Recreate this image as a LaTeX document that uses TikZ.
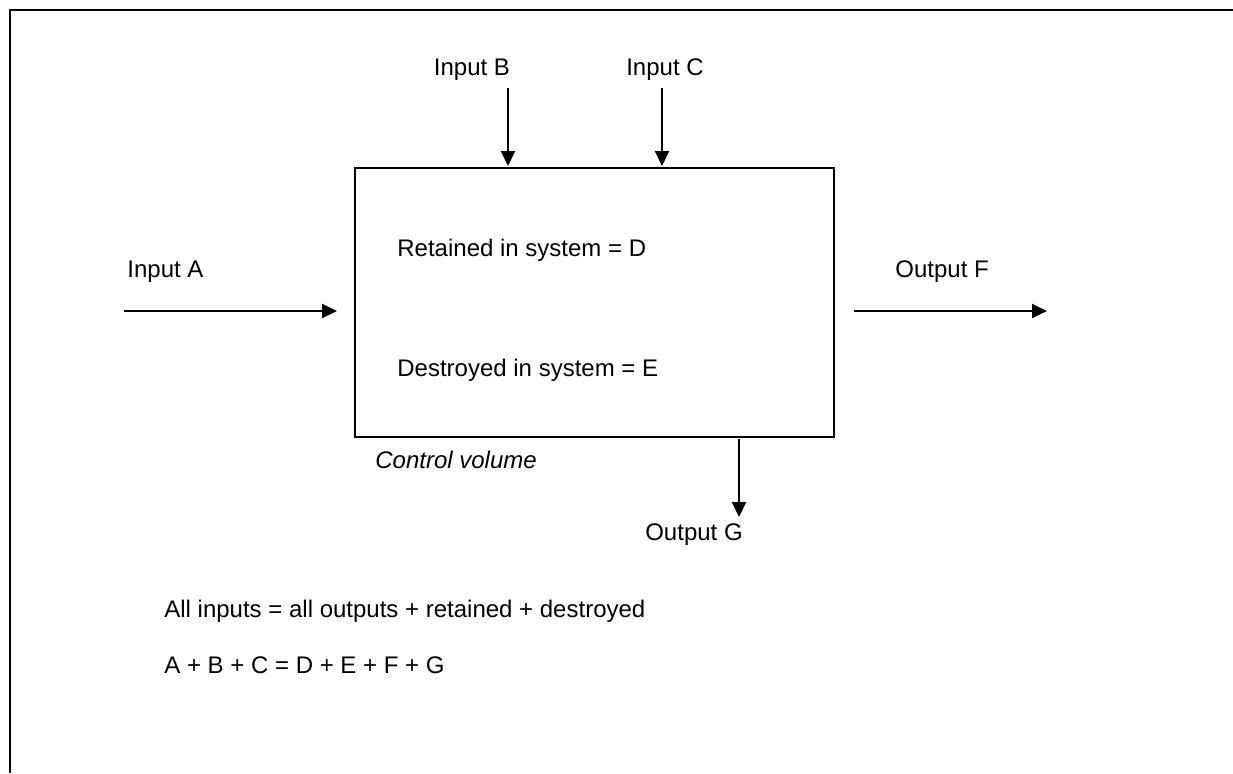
\documentclass[tikz,border=0pt]{standalone}
\usepackage{fontspec}
\setmainfont{Liberation Sans}
\usetikzlibrary{arrows.meta}
\begin{document}
\begin{tikzpicture}[x=0.5pt,y=-0.5pt,
  flow/.style={line width=1pt,-{Triangle[length=7.5pt,width=7pt]}},
  lbl/.style={inner sep=0pt,font=\fontsize{12pt}{14pt}\selectfont},
  cv/.style={draw,line width=1.2pt,minimum width=239.5pt,minimum height=134.5pt,inner sep=0pt}]
\useasboundingbox (0,0) rectangle (1233,773);
\draw[line width=1.4pt] (10,773) -- (10,10) -- (1233,10);
\node[cv] (box) at (594.5,302.75) {};
% texts
\node[lbl,anchor=west] (tA) at (127,272) {Input A};
\node[lbl] (tB) at (472,70) {Input B};
\node[lbl] (tC) at (665,70) {Input C};
\node[lbl,anchor=west] (tF) at (895,272) {Output F};
\node[lbl] (tG) at (694,535) {Output G};
\node[lbl,anchor=west] (tD) at (397,250) {Retained in system = D};
\node[lbl,anchor=west] (tE) at (397,370) {Destroyed in system = E};
\node[lbl,anchor=west,font=\fontsize{12pt}{14pt}\selectfont\itshape] (tCV) at (375,460) {Control volume};
\node[lbl,anchor=west] (eq1) at (164,611) {All inputs = all outputs + retained + destroyed};
\node[lbl,anchor=west] (eq2) at (164,665) {A + B + C = D + E + F + G};
% arrow ends
\coordinate (as) at (124,311); \coordinate (ae) at (337,311);
\coordinate (bs) at (508,88); \coordinate (be) at (508,166);
\coordinate (cs) at (662,88); \coordinate (ce) at (662,166);
\coordinate (fs) at (854,311); \coordinate (fe) at (1047,311);
\coordinate (gs) at (739,439); \coordinate (ge) at (739,517);
\draw[flow] (as) -- (ae);
\draw[flow] (bs) -- (be);
\draw[flow] (cs) -- (ce);
\draw[flow] (fs) -- (fe);
\draw[flow] (gs) -- (ge);
\end{tikzpicture}
\end{document}
